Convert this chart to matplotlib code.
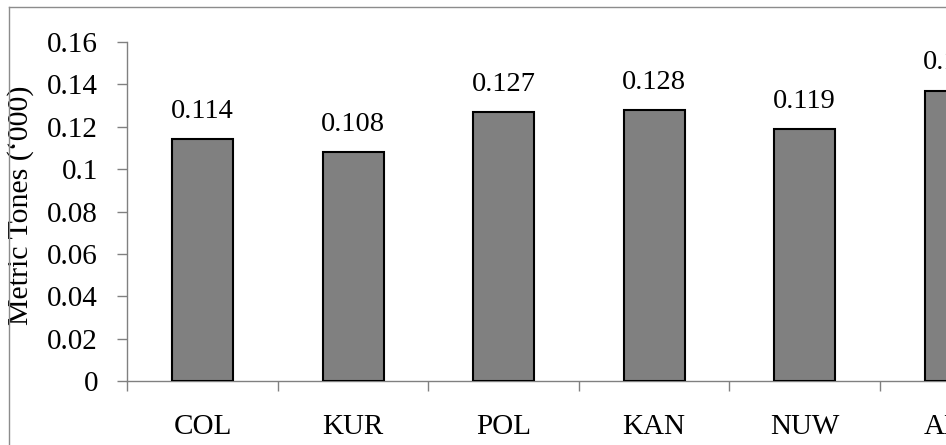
import matplotlib.pyplot as plt
from matplotlib.lines import Line2D
from matplotlib.ticker import FuncFormatter, MultipleLocator

regions = ["COL", "KUR", "POL", "KAN", "NUW", "ANU"]
tonnes = [0.114, 0.108, 0.127, 0.128, 0.119, 0.137]
bar_labels = ["0.114", "0.108", "0.127", "0.128", "0.119", "0.137"]

plt.rcParams["font.family"] = ["Liberation Serif", "DejaVu Serif"]

W, H = 946, 445
fig = plt.figure(figsize=(W / 100, H / 100), dpi=100)

# chart is cropped on the right in the reference, so the axes run past the figure edge
x0, x1 = 127.25, 1030.5
y0, y1 = 381, 42
ax = fig.add_axes([x0 / W, (H - y0) / H, (x1 - x0) / W, (y0 - y1) / H])

pos = list(range(len(regions)))
ax.bar(pos, tonnes, width=0.405, color="#808080", edgecolor="black", linewidth=1.5, zorder=3)

for p, v, s in zip(pos, tonnes, bar_labels):
    ax.annotate(s, (p, v), xytext=(0, 11), textcoords="offset points",
                ha="center", va="bottom", fontsize=20.5, annotation_clip=False)

ax.set_xlim(-0.5, len(regions) - 0.5)
ax.set_ylim(0, 0.16)
ax.yaxis.set_major_locator(MultipleLocator(0.02))
ax.yaxis.set_major_formatter(FuncFormatter(lambda v, _: f"{v:.2f}".rstrip("0").rstrip(".") if v else "0"))

ax.set_xticks(pos)
ax.set_xticklabels(regions)
ax.set_xticks([p - 0.5 for p in pos] + [len(regions) - 0.5], minor=True)
ax.tick_params(axis="x", which="major", length=0, pad=24, labelsize=21)
ax.tick_params(axis="x", which="minor", length=7, width=1, color="#808080", direction="out")
ax.tick_params(axis="y", length=7, width=1, color="#808080", pad=14, labelsize=21)

for side in ["top", "right"]:
    ax.spines[side].set_visible(False)
for side in ["left", "bottom"]:
    ax.spines[side].set_color("#808080")
    ax.spines[side].set_linewidth(1)

ax.set_ylabel("Metric Tones (\u2018000)", fontsize=21.5)
ax.yaxis.set_label_coords(-(x0 - 34) / (x1 - x0), (y0 - 205.5) / (y0 - y1))

# outer chart border (only left and top edges visible)
bx, by = 8.5 / W, 1 - 6.5 / H
fig.add_artist(Line2D([bx, bx], [0, by], transform=fig.transFigure, color="#8c8c8c", lw=1))
fig.add_artist(Line2D([bx, 1], [by, by], transform=fig.transFigure, color="#8c8c8c", lw=1))

fig.savefig("out.png", dpi=100)
